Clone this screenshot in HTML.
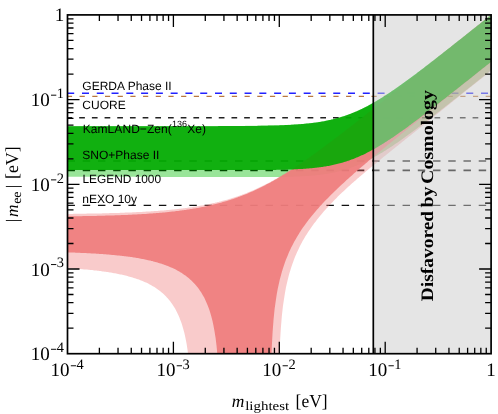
<!DOCTYPE html>
<html><head><meta charset="utf-8"><title>plot</title>
<style>
html,body{margin:0;padding:0;background:#fff;}
body{width:498px;height:414px;overflow:hidden;}
svg{display:block;will-change:transform}
text{font-family:"Liberation Serif",serif;fill:#000;text-rendering:geometricPrecision}
.sans text{font-family:"Liberation Sans",sans-serif;}
</style></head><body>
<svg width="498" height="414" viewBox="0 0 498 414">
<rect width="498" height="414" fill="#fff"/>
<defs><clipPath id="cp"><rect x="67.5" y="14.9" width="423.6" height="338.8"/></clipPath></defs>
<g clip-path="url(#cp)">
<g fill="none">
<line x1="67.2" y1="93.2" x2="491.1" y2="93.2" stroke="#2222ff" stroke-width="1.55" stroke-dasharray="7.0 7.78" stroke-dashoffset="0.0"/>
<line x1="66.9" y1="96.4" x2="491.1" y2="96.4" stroke="#b87840" stroke-width="1.10" stroke-dasharray="5.2 7.49" stroke-dashoffset="0.0"/>
<line x1="66.5" y1="117.8" x2="491.1" y2="117.8" stroke="#222" stroke-width="1.40" stroke-dasharray="5.7 6.99" stroke-dashoffset="0.0"/>
<line x1="67.5" y1="161.0" x2="491.1" y2="161.0" stroke="#111" stroke-width="1.40" stroke-dasharray="7.45 7.78" stroke-dashoffset="0.0"/>
<line x1="67.5" y1="170.3" x2="491.1" y2="170.3" stroke="#000" stroke-width="1.70" stroke-dasharray="7.45 7.78" stroke-dashoffset="0.0"/>
<line x1="67.5" y1="205.4" x2="491.1" y2="205.4" stroke="#111" stroke-width="1.40" stroke-dasharray="7.45 7.78" stroke-dashoffset="0.0"/>
</g>
<path d="M62.2,126.1 L63.2,126.1 L64.3,126.1 L65.3,126.1 L66.4,126.1 L67.4,126.1 L68.4,126.1 L69.5,126.1 L70.5,126.1 L71.5,126.1 L72.6,126.1 L73.6,126.1 L74.6,126.1 L75.7,126.1 L76.7,126.1 L77.7,126.1 L78.8,126.1 L79.8,126.1 L80.9,126.1 L81.9,126.1 L82.9,126.1 L84.0,126.1 L85.0,126.1 L86.0,126.1 L87.1,126.1 L88.1,126.1 L89.1,126.1 L90.2,126.1 L91.2,126.1 L92.3,126.1 L93.3,126.1 L94.3,126.1 L95.4,126.1 L96.4,126.1 L97.4,126.1 L98.5,126.1 L99.5,126.1 L100.5,126.1 L101.6,126.1 L102.6,126.1 L103.7,126.1 L104.7,126.1 L105.7,126.1 L106.8,126.1 L107.8,126.1 L108.8,126.1 L109.9,126.1 L110.9,126.1 L111.9,126.1 L113.0,126.1 L114.0,126.1 L115.1,126.1 L116.1,126.1 L117.1,126.1 L118.2,126.1 L119.2,126.1 L120.2,126.1 L121.3,126.1 L122.3,126.1 L123.3,126.1 L124.4,126.1 L125.4,126.1 L126.5,126.1 L127.5,126.1 L128.5,126.1 L129.6,126.1 L130.6,126.1 L131.6,126.1 L132.7,126.1 L133.7,126.1 L134.7,126.1 L135.8,126.1 L136.8,126.1 L137.9,126.1 L138.9,126.1 L139.9,126.1 L141.0,126.1 L142.0,126.1 L143.0,126.1 L144.1,126.1 L145.1,126.1 L146.1,126.1 L147.2,126.1 L148.2,126.1 L149.3,126.1 L150.3,126.1 L151.3,126.1 L152.4,126.1 L153.4,126.1 L154.4,126.1 L155.5,126.1 L156.5,126.1 L157.5,126.1 L158.6,126.1 L159.6,126.1 L160.6,126.1 L161.7,126.1 L162.7,126.1 L163.8,126.1 L164.8,126.1 L165.8,126.1 L166.9,126.1 L167.9,126.1 L168.9,126.1 L170.0,126.1 L171.0,126.1 L172.0,126.1 L173.1,126.1 L174.1,126.1 L175.2,126.1 L176.2,126.1 L177.2,126.1 L178.3,126.1 L179.3,126.1 L180.3,126.1 L181.4,126.1 L182.4,126.1 L183.4,126.1 L184.5,126.1 L185.5,126.1 L186.6,126.1 L187.6,126.1 L188.6,126.1 L189.7,126.1 L190.7,126.1 L191.7,126.1 L192.8,126.1 L193.8,126.1 L194.8,126.1 L195.9,126.1 L196.9,126.1 L198.0,126.1 L199.0,126.0 L200.0,126.0 L201.1,126.0 L202.1,126.0 L203.1,126.0 L204.2,126.0 L205.2,126.0 L206.2,126.0 L207.3,126.0 L208.3,126.0 L209.4,126.0 L210.4,126.0 L211.4,126.0 L212.5,126.0 L213.5,126.0 L214.5,126.0 L215.6,126.0 L216.6,126.0 L217.6,126.0 L218.7,126.0 L219.7,126.0 L220.8,126.0 L221.8,126.0 L222.8,126.0 L223.9,126.0 L224.9,126.0 L225.9,126.0 L227.0,126.0 L228.0,126.0 L229.0,126.0 L230.1,126.0 L231.1,125.9 L232.2,125.9 L233.2,125.9 L234.2,125.9 L235.3,125.9 L236.3,125.9 L237.3,125.9 L238.4,125.9 L239.4,125.9 L240.4,125.9 L241.5,125.9 L242.5,125.9 L243.5,125.9 L244.6,125.9 L245.6,125.8 L246.7,125.8 L247.7,125.8 L248.7,125.8 L249.8,125.8 L250.8,125.8 L251.8,125.8 L252.9,125.8 L253.9,125.8 L254.9,125.7 L256.0,125.7 L257.0,125.7 L258.1,125.7 L259.1,125.7 L260.1,125.7 L261.2,125.6 L262.2,125.6 L263.2,125.6 L264.3,125.6 L265.3,125.6 L266.3,125.5 L267.4,125.5 L268.4,125.5 L269.5,125.5 L270.5,125.4 L271.5,125.4 L272.6,125.4 L273.6,125.4 L274.6,125.3 L275.7,125.3 L276.7,125.3 L277.7,125.2 L278.8,125.2 L279.8,125.2 L280.9,125.1 L281.9,125.1 L282.9,125.1 L284.0,125.0 L285.0,125.0 L286.0,124.9 L287.1,124.9 L288.1,124.8 L289.1,124.8 L290.2,124.7 L291.2,124.7 L292.3,124.6 L293.3,124.5 L294.3,124.5 L295.4,124.4 L296.4,124.3 L297.4,124.3 L298.5,124.2 L299.5,124.1 L300.5,124.0 L301.6,123.9 L302.6,123.9 L303.7,123.8 L304.7,123.7 L305.7,123.6 L306.8,123.5 L307.8,123.4 L308.8,123.3 L309.9,123.1 L310.9,123.0 L311.9,122.9 L313.0,122.8 L314.0,122.6 L315.1,122.5 L316.1,122.4 L317.1,122.2 L318.2,122.1 L319.2,121.9 L320.2,121.7 L321.3,121.6 L322.3,121.4 L323.3,121.2 L324.4,121.0 L325.4,120.8 L326.4,120.6 L327.5,120.4 L328.5,120.2 L329.6,120.0 L330.6,119.7 L331.6,119.5 L332.7,119.3 L333.7,119.0 L334.7,118.7 L335.8,118.5 L336.8,118.2 L337.8,117.9 L338.9,117.6 L339.9,117.3 L341.0,117.0 L342.0,116.7 L343.0,116.3 L344.1,116.0 L345.1,115.7 L346.1,115.3 L347.2,114.9 L348.2,114.6 L349.2,114.2 L350.3,113.8 L351.3,113.4 L352.4,113.0 L353.4,112.6 L354.4,112.1 L355.5,111.7 L356.5,111.2 L357.5,110.8 L358.6,110.3 L359.6,109.8 L360.6,109.4 L361.7,108.9 L362.7,108.4 L363.8,107.8 L364.8,107.3 L365.8,106.8 L366.9,106.3 L367.9,105.7 L368.9,105.2 L370.0,104.6 L371.0,104.0 L372.0,103.5 L373.1,102.9 L374.1,102.3 L375.2,101.7 L376.2,101.1 L377.2,100.4 L378.3,99.8 L379.3,99.2 L380.3,98.6 L381.4,97.9 L382.4,97.3 L383.4,96.6 L384.5,96.0 L385.5,95.3 L386.6,94.6 L387.6,93.9 L388.6,93.3 L389.7,92.6 L390.7,91.9 L391.7,91.2 L392.8,90.5 L393.8,89.8 L394.8,89.0 L395.9,88.3 L396.9,87.6 L398.0,86.9 L399.0,86.1 L400.0,85.4 L401.1,84.7 L402.1,83.9 L403.1,83.2 L404.2,82.4 L405.2,81.7 L406.2,80.9 L407.3,80.2 L408.3,79.4 L409.3,78.7 L410.4,77.9 L411.4,77.1 L412.5,76.3 L413.5,75.6 L414.5,74.8 L415.6,74.0 L416.6,73.2 L417.6,72.5 L418.7,71.7 L419.7,70.9 L420.7,70.1 L421.8,69.3 L422.8,68.5 L423.9,67.7 L424.9,66.9 L425.9,66.1 L427.0,65.3 L428.0,64.5 L429.0,63.7 L430.1,62.9 L431.1,62.1 L432.1,61.3 L433.2,60.5 L434.2,59.7 L435.3,58.9 L436.3,58.1 L437.3,57.3 L438.4,56.5 L439.4,55.7 L440.4,54.9 L441.5,54.1 L442.5,53.3 L443.5,52.4 L444.6,51.6 L445.6,50.8 L446.7,50.0 L447.7,49.2 L448.7,48.4 L449.8,47.5 L450.8,46.7 L451.8,45.9 L452.9,45.1 L453.9,44.3 L454.9,43.5 L456.0,42.6 L457.0,41.8 L458.1,41.0 L459.1,40.2 L460.1,39.4 L461.2,38.5 L462.2,37.7 L463.2,36.9 L464.3,36.1 L465.3,35.2 L466.3,34.4 L467.4,33.6 L468.4,32.8 L469.5,32.0 L470.5,31.1 L471.5,30.3 L472.6,29.5 L473.6,28.7 L474.6,27.8 L475.7,27.0 L476.7,26.2 L477.7,25.4 L478.8,24.5 L479.8,23.7 L480.9,22.9 L481.9,22.1 L482.9,21.2 L484.0,20.4 L485.0,19.6 L486.0,18.8 L487.1,17.9 L488.1,17.1 L489.1,16.3 L490.2,15.4 L491.2,14.6 L492.2,13.8 L493.3,13.0 L494.3,12.1 L495.4,11.3 L496.4,10.5 L496.4,66.0 L495.4,66.9 L494.3,67.7 L493.3,68.5 L492.2,69.4 L491.2,70.2 L490.2,71.0 L489.1,71.8 L488.1,72.7 L487.1,73.5 L486.0,74.3 L485.0,75.1 L484.0,76.0 L482.9,76.8 L481.9,77.6 L480.9,78.4 L479.8,79.3 L478.8,80.1 L477.7,80.9 L476.7,81.7 L475.7,82.6 L474.6,83.4 L473.6,84.2 L472.6,85.0 L471.5,85.9 L470.5,86.7 L469.5,87.5 L468.4,88.3 L467.4,89.2 L466.3,90.0 L465.3,90.8 L464.3,91.6 L463.2,92.4 L462.2,93.3 L461.2,94.1 L460.1,94.9 L459.1,95.7 L458.1,96.5 L457.0,97.4 L456.0,98.2 L454.9,99.0 L453.9,99.8 L452.9,100.6 L451.8,101.5 L450.8,102.3 L449.8,103.1 L448.7,103.9 L447.7,104.7 L446.7,105.5 L445.6,106.3 L444.6,107.2 L443.5,108.0 L442.5,108.8 L441.5,109.6 L440.4,110.4 L439.4,111.2 L438.4,112.0 L437.3,112.8 L436.3,113.6 L435.3,114.4 L434.2,115.2 L433.2,116.0 L432.1,116.8 L431.1,117.6 L430.1,118.4 L429.0,119.2 L428.0,120.0 L427.0,120.8 L425.9,121.6 L424.9,122.4 L423.9,123.2 L422.8,124.0 L421.8,124.8 L420.7,125.6 L419.7,126.4 L418.7,127.1 L417.6,127.9 L416.6,128.7 L415.6,129.5 L414.5,130.2 L413.5,131.0 L412.5,131.8 L411.4,132.5 L410.4,133.3 L409.3,134.1 L408.3,134.8 L407.3,135.6 L406.2,136.3 L405.2,137.1 L404.2,137.8 L403.1,138.5 L402.1,139.3 L401.1,140.0 L400.0,140.7 L399.0,141.5 L398.0,142.2 L396.9,142.9 L395.9,143.6 L394.8,144.3 L393.8,145.0 L392.8,145.7 L391.7,146.4 L390.7,147.1 L389.7,147.8 L388.6,148.4 L387.6,149.1 L386.6,149.8 L385.5,150.4 L384.5,151.1 L383.4,151.7 L382.4,152.4 L381.4,153.0 L380.3,153.6 L379.3,154.2 L378.3,154.8 L377.2,155.4 L376.2,156.0 L375.2,156.6 L374.1,157.2 L373.1,157.8 L372.0,158.3 L371.0,158.9 L370.0,159.4 L368.9,160.0 L367.9,160.5 L366.9,161.0 L365.8,161.5 L364.8,162.0 L363.8,162.5 L362.7,163.0 L361.7,163.5 L360.6,163.9 L359.6,164.4 L358.6,164.8 L357.5,165.3 L356.5,165.7 L355.5,166.1 L354.4,166.5 L353.4,166.9 L352.4,167.3 L351.3,167.6 L350.3,168.0 L349.2,168.4 L348.2,168.7 L347.2,169.0 L346.1,169.4 L345.1,169.7 L344.1,170.0 L343.0,170.3 L342.0,170.6 L341.0,170.9 L339.9,171.1 L338.9,171.4 L337.8,171.6 L336.8,171.9 L335.8,172.1 L334.7,172.4 L333.7,172.6 L332.7,172.8 L331.6,173.0 L330.6,173.2 L329.6,173.4 L328.5,173.6 L327.5,173.7 L326.4,173.9 L325.4,174.1 L324.4,174.2 L323.3,174.4 L322.3,174.5 L321.3,174.6 L320.2,174.8 L319.2,174.9 L318.2,175.0 L317.1,175.1 L316.1,175.2 L315.1,175.4 L314.0,175.5 L313.0,175.5 L311.9,175.6 L310.9,175.7 L309.9,175.8 L308.8,175.9 L307.8,176.0 L306.8,176.0 L305.7,176.1 L304.7,176.2 L303.7,176.2 L302.6,176.3 L301.6,176.3 L300.5,176.4 L299.5,176.4 L298.5,176.5 L297.4,176.5 L296.4,176.6 L295.4,176.6 L294.3,176.6 L293.3,176.7 L292.3,176.7 L291.2,176.7 L290.2,176.8 L289.1,176.8 L288.1,176.8 L287.1,176.8 L286.0,176.9 L285.0,176.9 L284.0,176.9 L282.9,176.9 L281.9,176.9 L280.9,176.9 L279.8,177.0 L278.8,177.0 L277.7,177.0 L276.7,177.0 L275.7,177.0 L274.6,177.0 L273.6,177.0 L272.6,177.0 L271.5,177.0 L270.5,177.0 L269.5,177.1 L268.4,177.1 L267.4,177.1 L266.3,177.1 L265.3,177.1 L264.3,177.1 L263.2,177.1 L262.2,177.1 L261.2,177.1 L260.1,177.1 L259.1,177.1 L258.1,177.1 L257.0,177.1 L256.0,177.1 L254.9,177.1 L253.9,177.1 L252.9,177.1 L251.8,177.1 L250.8,177.1 L249.8,177.1 L248.7,177.1 L247.7,177.1 L246.7,177.1 L245.6,177.1 L244.6,177.1 L243.5,177.1 L242.5,177.1 L241.5,177.1 L240.4,177.1 L239.4,177.0 L238.4,177.0 L237.3,177.0 L236.3,177.0 L235.3,177.0 L234.2,177.0 L233.2,177.0 L232.2,177.0 L231.1,177.0 L230.1,177.0 L229.0,177.0 L228.0,177.0 L227.0,177.0 L225.9,177.0 L224.9,177.0 L223.9,177.0 L222.8,177.0 L221.8,177.0 L220.8,177.0 L219.7,177.0 L218.7,177.0 L217.6,177.0 L216.6,177.0 L215.6,177.0 L214.5,177.0 L213.5,177.0 L212.5,177.0 L211.4,177.0 L210.4,177.0 L209.4,177.0 L208.3,177.0 L207.3,177.0 L206.2,176.9 L205.2,176.9 L204.2,176.9 L203.1,176.9 L202.1,176.9 L201.1,176.9 L200.0,176.9 L199.0,176.9 L198.0,176.9 L196.9,176.9 L195.9,176.9 L194.8,176.9 L193.8,176.9 L192.8,176.9 L191.7,176.9 L190.7,176.9 L189.7,176.9 L188.6,176.9 L187.6,176.9 L186.6,176.9 L185.5,176.9 L184.5,176.9 L183.4,176.9 L182.4,176.9 L181.4,176.9 L180.3,176.9 L179.3,176.9 L178.3,176.9 L177.2,176.9 L176.2,176.9 L175.2,176.9 L174.1,176.9 L173.1,176.9 L172.0,176.9 L171.0,176.9 L170.0,176.9 L168.9,176.9 L167.9,176.9 L166.9,176.9 L165.8,176.9 L164.8,176.9 L163.8,176.9 L162.7,176.9 L161.7,176.9 L160.6,176.9 L159.6,176.9 L158.6,176.8 L157.5,176.8 L156.5,176.8 L155.5,176.8 L154.4,176.8 L153.4,176.8 L152.4,176.8 L151.3,176.8 L150.3,176.8 L149.3,176.8 L148.2,176.8 L147.2,176.8 L146.1,176.8 L145.1,176.8 L144.1,176.8 L143.0,176.8 L142.0,176.8 L141.0,176.8 L139.9,176.8 L138.9,176.8 L137.9,176.8 L136.8,176.8 L135.8,176.8 L134.7,176.8 L133.7,176.8 L132.7,176.8 L131.6,176.8 L130.6,176.8 L129.6,176.8 L128.5,176.8 L127.5,176.8 L126.5,176.8 L125.4,176.8 L124.4,176.8 L123.3,176.8 L122.3,176.8 L121.3,176.8 L120.2,176.8 L119.2,176.8 L118.2,176.8 L117.1,176.8 L116.1,176.8 L115.1,176.8 L114.0,176.8 L113.0,176.8 L111.9,176.8 L110.9,176.8 L109.9,176.8 L108.8,176.8 L107.8,176.8 L106.8,176.8 L105.7,176.8 L104.7,176.8 L103.7,176.8 L102.6,176.8 L101.6,176.8 L100.5,176.8 L99.5,176.8 L98.5,176.8 L97.4,176.8 L96.4,176.8 L95.4,176.8 L94.3,176.8 L93.3,176.8 L92.3,176.8 L91.2,176.8 L90.2,176.8 L89.1,176.8 L88.1,176.8 L87.1,176.8 L86.0,176.8 L85.0,176.8 L84.0,176.8 L82.9,176.8 L81.9,176.8 L80.9,176.8 L79.8,176.8 L78.8,176.8 L77.7,176.8 L76.7,176.8 L75.7,176.8 L74.6,176.8 L73.6,176.8 L72.6,176.8 L71.5,176.8 L70.5,176.8 L69.5,176.8 L68.4,176.8 L67.4,176.8 L66.4,176.8 L65.3,176.8 L64.3,176.8 L63.2,176.8 L62.2,176.8Z" fill="rgb(0,191,0)" fill-opacity="0.4"/>
<path d="M62.2,214.0 L63.2,214.0 L64.3,213.9 L65.3,213.9 L66.4,213.9 L67.4,213.9 L68.4,213.9 L69.5,213.9 L70.5,213.9 L71.5,213.9 L72.6,213.9 L73.6,213.8 L74.6,213.8 L75.7,213.8 L76.7,213.8 L77.7,213.8 L78.8,213.8 L79.8,213.8 L80.9,213.7 L81.9,213.7 L82.9,213.7 L84.0,213.7 L85.0,213.7 L86.0,213.7 L87.1,213.6 L88.1,213.6 L89.1,213.6 L90.2,213.6 L91.2,213.6 L92.3,213.6 L93.3,213.5 L94.3,213.5 L95.4,213.5 L96.4,213.5 L97.4,213.4 L98.5,213.4 L99.5,213.4 L100.5,213.4 L101.6,213.4 L102.6,213.3 L103.7,213.3 L104.7,213.3 L105.7,213.3 L106.8,213.2 L107.8,213.2 L108.8,213.2 L109.9,213.1 L110.9,213.1 L111.9,213.1 L113.0,213.1 L114.0,213.0 L115.1,213.0 L116.1,213.0 L117.1,212.9 L118.2,212.9 L119.2,212.9 L120.2,212.8 L121.3,212.8 L122.3,212.8 L123.3,212.7 L124.4,212.7 L125.4,212.6 L126.5,212.6 L127.5,212.6 L128.5,212.5 L129.6,212.5 L130.6,212.4 L131.6,212.4 L132.7,212.3 L133.7,212.3 L134.7,212.2 L135.8,212.2 L136.8,212.1 L137.9,212.1 L138.9,212.0 L139.9,212.0 L141.0,211.9 L142.0,211.9 L143.0,211.8 L144.1,211.8 L145.1,211.7 L146.1,211.6 L147.2,211.6 L148.2,211.5 L149.3,211.5 L150.3,211.4 L151.3,211.3 L152.4,211.2 L153.4,211.2 L154.4,211.1 L155.5,211.0 L156.5,211.0 L157.5,210.9 L158.6,210.8 L159.6,210.7 L160.6,210.6 L161.7,210.6 L162.7,210.5 L163.8,210.4 L164.8,210.3 L165.8,210.2 L166.9,210.1 L167.9,210.0 L168.9,209.9 L170.0,209.8 L171.0,209.7 L172.0,209.6 L173.1,209.5 L174.1,209.4 L175.2,209.3 L176.2,209.2 L177.2,209.1 L178.3,208.9 L179.3,208.8 L180.3,208.7 L181.4,208.6 L182.4,208.4 L183.4,208.3 L184.5,208.2 L185.5,208.0 L186.6,207.9 L187.6,207.8 L188.6,207.6 L189.7,207.5 L190.7,207.3 L191.7,207.2 L192.8,207.0 L193.8,206.8 L194.8,206.7 L195.9,206.5 L196.9,206.3 L198.0,206.2 L199.0,206.0 L200.0,205.8 L201.1,205.6 L202.1,205.4 L203.1,205.3 L204.2,205.1 L205.2,204.9 L206.2,204.7 L207.3,204.4 L208.3,204.2 L209.4,204.0 L210.4,203.8 L211.4,203.6 L212.5,203.3 L213.5,203.1 L214.5,202.9 L215.6,202.6 L216.6,202.4 L217.6,202.1 L218.7,201.9 L219.7,201.6 L220.8,201.4 L221.8,201.1 L222.8,200.8 L223.9,200.5 L224.9,200.2 L225.9,200.0 L227.0,199.7 L228.0,199.4 L229.0,199.0 L230.1,198.7 L231.1,198.4 L232.2,198.1 L233.2,197.8 L234.2,197.4 L235.3,197.1 L236.3,196.7 L237.3,196.4 L238.4,196.0 L239.4,195.7 L240.4,195.3 L241.5,194.9 L242.5,194.5 L243.5,194.2 L244.6,193.8 L245.6,193.4 L246.7,193.0 L247.7,192.5 L248.7,192.1 L249.8,191.7 L250.8,191.3 L251.8,190.8 L252.9,190.4 L253.9,189.9 L254.9,189.5 L256.0,189.0 L257.0,188.6 L258.1,188.1 L259.1,187.6 L260.1,187.1 L261.2,186.6 L262.2,186.1 L263.2,185.6 L264.3,185.1 L265.3,184.6 L266.3,184.0 L267.4,183.5 L268.4,183.0 L269.5,182.4 L270.5,181.9 L271.5,181.3 L272.6,180.7 L273.6,180.2 L274.6,179.6 L275.7,179.0 L276.7,178.4 L277.7,177.8 L278.8,177.2 L279.8,176.6 L280.9,176.0 L281.9,175.4 L282.9,174.8 L284.0,174.2 L285.0,173.5 L286.0,172.9 L287.1,172.3 L288.1,171.6 L289.1,171.0 L290.2,170.3 L291.2,169.6 L292.3,169.0 L293.3,168.3 L294.3,167.6 L295.4,167.0 L296.4,166.3 L297.4,165.6 L298.5,164.9 L299.5,164.2 L300.5,163.5 L301.6,162.8 L302.6,162.1 L303.7,161.4 L304.7,160.7 L305.7,159.9 L306.8,159.2 L307.8,158.5 L308.8,157.8 L309.9,157.0 L310.9,156.3 L311.9,155.6 L313.0,154.8 L314.0,154.1 L315.1,153.4 L316.1,152.6 L317.1,151.9 L318.2,151.1 L319.2,150.3 L320.2,149.6 L321.3,148.8 L322.3,148.1 L323.3,147.3 L324.4,146.5 L325.4,145.8 L326.4,145.0 L327.5,144.2 L328.5,143.5 L329.6,142.7 L330.6,141.9 L331.6,141.1 L332.7,140.3 L333.7,139.6 L334.7,138.8 L335.8,138.0 L336.8,137.2 L337.8,136.4 L338.9,135.6 L339.9,134.8 L341.0,134.1 L342.0,133.3 L343.0,132.5 L344.1,131.7 L345.1,130.9 L346.1,130.1 L347.2,129.3 L348.2,128.5 L349.2,127.7 L350.3,126.9 L351.3,126.1 L352.4,125.3 L353.4,124.5 L354.4,123.7 L355.5,122.8 L356.5,122.0 L357.5,121.2 L358.6,120.4 L359.6,119.6 L360.6,118.8 L361.7,118.0 L362.7,117.2 L363.8,116.4 L364.8,115.6 L365.8,114.7 L366.9,113.9 L367.9,113.1 L368.9,112.3 L370.0,111.5 L371.0,110.7 L372.0,109.8 L373.1,109.0 L374.1,108.2 L375.2,107.4 L376.2,106.6 L377.2,105.8 L378.3,104.9 L379.3,104.1 L380.3,103.3 L381.4,102.5 L382.4,101.7 L383.4,100.8 L384.5,100.0 L385.5,99.2 L386.6,98.4 L387.6,97.5 L388.6,96.7 L389.7,95.9 L390.7,95.1 L391.7,94.3 L392.8,93.4 L393.8,92.6 L394.8,91.8 L395.9,91.0 L396.9,90.1 L398.0,89.3 L399.0,88.5 L400.0,87.7 L401.1,86.8 L402.1,86.0 L403.1,85.2 L404.2,84.4 L405.2,83.5 L406.2,82.7 L407.3,81.9 L408.3,81.1 L409.3,80.2 L410.4,79.4 L411.4,78.6 L412.5,77.7 L413.5,76.9 L414.5,76.1 L415.6,75.3 L416.6,74.4 L417.6,73.6 L418.7,72.8 L419.7,72.0 L420.7,71.1 L421.8,70.3 L422.8,69.5 L423.9,68.7 L424.9,67.8 L425.9,67.0 L427.0,66.2 L428.0,65.3 L429.0,64.5 L430.1,63.7 L431.1,62.9 L432.1,62.0 L433.2,61.2 L434.2,60.4 L435.3,59.5 L436.3,58.7 L437.3,57.9 L438.4,57.1 L439.4,56.2 L440.4,55.4 L441.5,54.6 L442.5,53.7 L443.5,52.9 L444.6,52.1 L445.6,51.3 L446.7,50.4 L447.7,49.6 L448.7,48.8 L449.8,48.0 L450.8,47.1 L451.8,46.3 L452.9,45.5 L453.9,44.6 L454.9,43.8 L456.0,43.0 L457.0,42.2 L458.1,41.3 L459.1,40.5 L460.1,39.7 L461.2,38.8 L462.2,38.0 L463.2,37.2 L464.3,36.4 L465.3,35.5 L466.3,34.7 L467.4,33.9 L468.4,33.0 L469.5,32.2 L470.5,31.4 L471.5,30.6 L472.6,29.7 L473.6,28.9 L474.6,28.1 L475.7,27.2 L476.7,26.4 L477.7,25.6 L478.8,24.8 L479.8,23.9 L480.9,23.1 L481.9,22.3 L482.9,21.4 L484.0,20.6 L485.0,19.8 L486.0,19.0 L487.1,18.1 L488.1,17.3 L489.1,16.5 L490.2,15.6 L491.2,14.8 L492.2,14.0 L493.3,13.1 L494.3,12.3 L495.4,11.5 L496.4,10.7 L496.4,66.6 L495.4,67.4 L494.3,68.2 L493.3,69.1 L492.2,69.9 L491.2,70.7 L490.2,71.6 L489.1,72.4 L488.1,73.2 L487.1,74.0 L486.0,74.9 L485.0,75.7 L484.0,76.5 L482.9,77.4 L481.9,78.2 L480.9,79.0 L479.8,79.8 L478.8,80.7 L477.7,81.5 L476.7,82.3 L475.7,83.2 L474.6,84.0 L473.6,84.8 L472.6,85.6 L471.5,86.5 L470.5,87.3 L469.5,88.1 L468.4,89.0 L467.4,89.8 L466.3,90.6 L465.3,91.5 L464.3,92.3 L463.2,93.1 L462.2,93.9 L461.2,94.8 L460.1,95.6 L459.1,96.4 L458.1,97.3 L457.0,98.1 L456.0,98.9 L454.9,99.8 L453.9,100.6 L452.9,101.4 L451.8,102.2 L450.8,103.1 L449.8,103.9 L448.7,104.7 L447.7,105.6 L446.7,106.4 L445.6,107.2 L444.6,108.1 L443.5,108.9 L442.5,109.7 L441.5,110.5 L440.4,111.4 L439.4,112.2 L438.4,113.0 L437.3,113.9 L436.3,114.7 L435.3,115.5 L434.2,116.4 L433.2,117.2 L432.1,118.0 L431.1,118.9 L430.1,119.7 L429.0,120.5 L428.0,121.3 L427.0,122.2 L425.9,123.0 L424.9,123.8 L423.9,124.7 L422.8,125.5 L421.8,126.3 L420.7,127.2 L419.7,128.0 L418.7,128.8 L417.6,129.7 L416.6,130.5 L415.6,131.3 L414.5,132.2 L413.5,133.0 L412.5,133.8 L411.4,134.7 L410.4,135.5 L409.3,136.3 L408.3,137.1 L407.3,138.0 L406.2,138.8 L405.2,139.6 L404.2,140.5 L403.1,141.3 L402.1,142.1 L401.1,143.0 L400.0,143.8 L399.0,144.6 L398.0,145.5 L396.9,146.3 L395.9,147.1 L394.8,148.0 L393.8,148.8 L392.8,149.6 L391.7,150.5 L390.7,151.3 L389.7,152.1 L388.6,153.0 L387.6,153.8 L386.6,154.6 L385.5,155.5 L384.5,156.3 L383.4,157.1 L382.4,158.0 L381.4,158.8 L380.3,159.7 L379.3,160.5 L378.3,161.3 L377.2,162.2 L376.2,163.0 L375.2,163.9 L374.1,164.7 L373.1,165.6 L372.0,166.4 L371.0,167.3 L370.0,168.1 L368.9,169.0 L367.9,169.8 L366.9,170.7 L365.8,171.5 L364.8,172.4 L363.8,173.3 L362.7,174.2 L361.7,175.0 L360.6,175.9 L359.6,176.8 L358.6,177.7 L357.5,178.6 L356.5,179.5 L355.5,180.4 L354.4,181.3 L353.4,182.2 L352.4,183.1 L351.3,184.0 L350.3,185.0 L349.2,185.9 L348.2,186.8 L347.2,187.8 L346.1,188.8 L345.1,189.7 L344.1,190.7 L343.0,191.7 L342.0,192.6 L341.0,193.6 L339.9,194.6 L338.9,195.6 L337.8,196.6 L336.8,197.7 L335.8,198.7 L334.7,199.8 L333.7,200.8 L332.7,201.9 L331.6,202.9 L330.6,204.0 L329.6,205.1 L328.5,206.3 L327.5,207.4 L326.4,208.5 L325.4,209.7 L324.4,210.8 L323.3,212.0 L322.3,213.2 L321.3,214.5 L320.2,215.7 L319.2,217.0 L318.2,218.2 L317.1,219.5 L316.1,220.9 L315.1,222.2 L314.0,223.6 L313.0,225.0 L311.9,226.4 L310.9,227.9 L309.9,229.4 L308.8,231.0 L307.8,232.5 L306.8,234.2 L305.7,235.8 L304.7,237.5 L303.7,239.3 L302.6,241.1 L301.6,243.0 L300.5,245.0 L299.5,247.0 L298.5,249.2 L297.4,251.4 L296.4,253.7 L295.4,256.1 L294.3,258.7 L293.3,261.4 L292.3,264.3 L291.2,267.4 L290.2,270.7 L289.1,274.3 L288.1,278.2 L287.1,282.5 L286.0,287.3 L285.0,292.7 L284.0,298.9 L282.9,306.4 L281.9,315.6 L280.9,327.6 L279.8,345.3 L278.8,373.7 L277.7,373.7 L276.7,373.7 L275.7,373.7 L274.6,373.7 L273.6,373.7 L272.6,373.7 L271.5,373.7 L270.5,373.7 L269.5,373.7 L268.4,373.7 L267.4,373.7 L266.3,373.7 L265.3,373.7 L264.3,373.7 L263.2,373.7 L262.2,373.7 L261.2,373.7 L260.1,373.7 L259.1,373.7 L258.1,373.7 L257.0,373.7 L256.0,373.7 L254.9,373.7 L253.9,373.7 L252.9,373.7 L251.8,373.7 L250.8,373.7 L249.8,373.7 L248.7,373.7 L247.7,373.7 L246.7,373.7 L245.6,373.7 L244.6,373.7 L243.5,373.7 L242.5,373.7 L241.5,373.7 L240.4,373.7 L239.4,373.7 L238.4,373.7 L237.3,373.7 L236.3,373.7 L235.3,373.7 L234.2,373.7 L233.2,373.7 L232.2,373.7 L231.1,373.7 L230.1,373.7 L229.0,373.7 L228.0,373.7 L227.0,373.7 L225.9,373.7 L224.9,373.7 L223.9,373.7 L222.8,373.7 L221.8,373.7 L220.8,373.7 L219.7,373.7 L218.7,373.7 L217.6,373.7 L216.6,373.7 L215.6,373.7 L214.5,373.7 L213.5,373.7 L212.5,373.7 L211.4,373.7 L210.4,373.7 L209.4,373.7 L208.3,373.7 L207.3,373.7 L206.2,373.7 L205.2,373.7 L204.2,373.7 L203.1,373.7 L202.1,373.7 L201.1,373.7 L200.0,373.7 L199.0,373.7 L198.0,373.7 L196.9,373.7 L195.9,373.7 L194.8,373.7 L193.8,373.7 L192.8,373.7 L191.7,373.7 L190.7,373.7 L189.7,369.6 L188.6,358.7 L187.6,350.4 L186.6,343.8 L185.5,338.3 L184.5,333.6 L183.4,329.6 L182.4,326.0 L181.4,322.8 L180.3,319.9 L179.3,317.3 L178.3,314.9 L177.2,312.7 L176.2,310.7 L175.2,308.8 L174.1,307.0 L173.1,305.4 L172.0,303.8 L171.0,302.4 L170.0,301.0 L168.9,299.8 L167.9,298.5 L166.9,297.4 L165.8,296.3 L164.8,295.3 L163.8,294.3 L162.7,293.3 L161.7,292.4 L160.6,291.6 L159.6,290.8 L158.6,290.0 L157.5,289.2 L156.5,288.5 L155.5,287.8 L154.4,287.1 L153.4,286.5 L152.4,285.9 L151.3,285.3 L150.3,284.7 L149.3,284.2 L148.2,283.6 L147.2,283.1 L146.1,282.6 L145.1,282.2 L144.1,281.7 L143.0,281.3 L142.0,280.8 L141.0,280.4 L139.9,280.0 L138.9,279.6 L137.9,279.3 L136.8,278.9 L135.8,278.5 L134.7,278.2 L133.7,277.9 L132.7,277.6 L131.6,277.2 L130.6,276.9 L129.6,276.7 L128.5,276.4 L127.5,276.1 L126.5,275.8 L125.4,275.6 L124.4,275.3 L123.3,275.1 L122.3,274.8 L121.3,274.6 L120.2,274.4 L119.2,274.2 L118.2,273.9 L117.1,273.7 L116.1,273.5 L115.1,273.3 L114.0,273.2 L113.0,273.0 L111.9,272.8 L110.9,272.6 L109.9,272.4 L108.8,272.3 L107.8,272.1 L106.8,272.0 L105.7,271.8 L104.7,271.7 L103.7,271.5 L102.6,271.4 L101.6,271.2 L100.5,271.1 L99.5,271.0 L98.5,270.8 L97.4,270.7 L96.4,270.6 L95.4,270.5 L94.3,270.4 L93.3,270.3 L92.3,270.1 L91.2,270.0 L90.2,269.9 L89.1,269.8 L88.1,269.7 L87.1,269.6 L86.0,269.5 L85.0,269.5 L84.0,269.4 L82.9,269.3 L81.9,269.2 L80.9,269.1 L79.8,269.0 L78.8,268.9 L77.7,268.9 L76.7,268.8 L75.7,268.7 L74.6,268.7 L73.6,268.6 L72.6,268.5 L71.5,268.4 L70.5,268.4 L69.5,268.3 L68.4,268.3 L67.4,268.2 L66.4,268.1 L65.3,268.1 L64.3,268.0 L63.2,268.0 L62.2,267.9Z" fill="rgb(239,125,125)" fill-opacity="0.4"/>
<path d="M62.2,216.4 L63.2,216.4 L64.3,216.4 L65.3,216.4 L66.4,216.4 L67.4,216.4 L68.4,216.4 L69.5,216.3 L70.5,216.3 L71.5,216.3 L72.6,216.3 L73.6,216.3 L74.6,216.3 L75.7,216.3 L76.7,216.2 L77.7,216.2 L78.8,216.2 L79.8,216.2 L80.9,216.2 L81.9,216.2 L82.9,216.1 L84.0,216.1 L85.0,216.1 L86.0,216.1 L87.1,216.1 L88.1,216.0 L89.1,216.0 L90.2,216.0 L91.2,216.0 L92.3,216.0 L93.3,215.9 L94.3,215.9 L95.4,215.9 L96.4,215.9 L97.4,215.8 L98.5,215.8 L99.5,215.8 L100.5,215.8 L101.6,215.7 L102.6,215.7 L103.7,215.7 L104.7,215.7 L105.7,215.6 L106.8,215.6 L107.8,215.6 L108.8,215.5 L109.9,215.5 L110.9,215.5 L111.9,215.4 L113.0,215.4 L114.0,215.4 L115.1,215.3 L116.1,215.3 L117.1,215.3 L118.2,215.2 L119.2,215.2 L120.2,215.2 L121.3,215.1 L122.3,215.1 L123.3,215.0 L124.4,215.0 L125.4,215.0 L126.5,214.9 L127.5,214.9 L128.5,214.8 L129.6,214.8 L130.6,214.7 L131.6,214.7 L132.7,214.6 L133.7,214.6 L134.7,214.5 L135.8,214.5 L136.8,214.4 L137.9,214.3 L138.9,214.3 L139.9,214.2 L141.0,214.2 L142.0,214.1 L143.0,214.0 L144.1,214.0 L145.1,213.9 L146.1,213.9 L147.2,213.8 L148.2,213.7 L149.3,213.6 L150.3,213.6 L151.3,213.5 L152.4,213.4 L153.4,213.3 L154.4,213.3 L155.5,213.2 L156.5,213.1 L157.5,213.0 L158.6,212.9 L159.6,212.8 L160.6,212.7 L161.7,212.7 L162.7,212.6 L163.8,212.5 L164.8,212.4 L165.8,212.3 L166.9,212.2 L167.9,212.1 L168.9,212.0 L170.0,211.8 L171.0,211.7 L172.0,211.6 L173.1,211.5 L174.1,211.4 L175.2,211.3 L176.2,211.1 L177.2,211.0 L178.3,210.9 L179.3,210.8 L180.3,210.6 L181.4,210.5 L182.4,210.3 L183.4,210.2 L184.5,210.1 L185.5,209.9 L186.6,209.8 L187.6,209.6 L188.6,209.5 L189.7,209.3 L190.7,209.1 L191.7,209.0 L192.8,208.8 L193.8,208.6 L194.8,208.4 L195.9,208.3 L196.9,208.1 L198.0,207.9 L199.0,207.7 L200.0,207.5 L201.1,207.3 L202.1,207.1 L203.1,206.9 L204.2,206.7 L205.2,206.5 L206.2,206.2 L207.3,206.0 L208.3,205.8 L209.4,205.6 L210.4,205.3 L211.4,205.1 L212.5,204.8 L213.5,204.6 L214.5,204.3 L215.6,204.1 L216.6,203.8 L217.6,203.6 L218.7,203.3 L219.7,203.0 L220.8,202.7 L221.8,202.4 L222.8,202.1 L223.9,201.8 L224.9,201.5 L225.9,201.2 L227.0,200.9 L228.0,200.6 L229.0,200.3 L230.1,199.9 L231.1,199.6 L232.2,199.3 L233.2,198.9 L234.2,198.6 L235.3,198.2 L236.3,197.8 L237.3,197.5 L238.4,197.1 L239.4,196.7 L240.4,196.3 L241.5,195.9 L242.5,195.5 L243.5,195.1 L244.6,194.7 L245.6,194.3 L246.7,193.9 L247.7,193.4 L248.7,193.0 L249.8,192.6 L250.8,192.1 L251.8,191.7 L252.9,191.2 L253.9,190.7 L254.9,190.2 L256.0,189.8 L257.0,189.3 L258.1,188.8 L259.1,188.3 L260.1,187.8 L261.2,187.3 L262.2,186.8 L263.2,186.2 L264.3,185.7 L265.3,185.2 L266.3,184.6 L267.4,184.1 L268.4,183.5 L269.5,183.0 L270.5,182.4 L271.5,181.8 L272.6,181.2 L273.6,180.7 L274.6,180.1 L275.7,179.5 L276.7,178.9 L277.7,178.3 L278.8,177.6 L279.8,177.0 L280.9,176.4 L281.9,175.8 L282.9,175.1 L284.0,174.5 L285.0,173.9 L286.0,173.2 L287.1,172.6 L288.1,171.9 L289.1,171.3 L290.2,170.6 L291.2,169.9 L292.3,169.2 L293.3,168.6 L294.3,167.9 L295.4,167.2 L296.4,166.5 L297.4,165.8 L298.5,165.1 L299.5,164.4 L300.5,163.7 L301.6,163.0 L302.6,162.3 L303.7,161.6 L304.7,160.8 L305.7,160.1 L306.8,159.4 L307.8,158.7 L308.8,157.9 L309.9,157.2 L310.9,156.5 L311.9,155.7 L313.0,155.0 L314.0,154.2 L315.1,153.5 L316.1,152.7 L317.1,152.0 L318.2,151.2 L319.2,150.5 L320.2,149.7 L321.3,148.9 L322.3,148.2 L323.3,147.4 L324.4,146.6 L325.4,145.9 L326.4,145.1 L327.5,144.3 L328.5,143.5 L329.6,142.8 L330.6,142.0 L331.6,141.2 L332.7,140.4 L333.7,139.6 L334.7,138.8 L335.8,138.1 L336.8,137.3 L337.8,136.5 L338.9,135.7 L339.9,134.9 L341.0,134.1 L342.0,133.3 L343.0,132.5 L344.1,131.7 L345.1,130.9 L346.1,130.1 L347.2,129.3 L348.2,128.5 L349.2,127.7 L350.3,126.9 L351.3,126.1 L352.4,125.3 L353.4,124.5 L354.4,123.7 L355.5,122.9 L356.5,122.1 L357.5,121.3 L358.6,120.4 L359.6,119.6 L360.6,118.8 L361.7,118.0 L362.7,117.2 L363.8,116.4 L364.8,115.6 L365.8,114.8 L366.9,113.9 L367.9,113.1 L368.9,112.3 L370.0,111.5 L371.0,110.7 L372.0,109.9 L373.1,109.0 L374.1,108.2 L375.2,107.4 L376.2,106.6 L377.2,105.8 L378.3,104.9 L379.3,104.1 L380.3,103.3 L381.4,102.5 L382.4,101.7 L383.4,100.8 L384.5,100.0 L385.5,99.2 L386.6,98.4 L387.6,97.6 L388.6,96.7 L389.7,95.9 L390.7,95.1 L391.7,94.3 L392.8,93.4 L393.8,92.6 L394.8,91.8 L395.9,91.0 L396.9,90.1 L398.0,89.3 L399.0,88.5 L400.0,87.7 L401.1,86.8 L402.1,86.0 L403.1,85.2 L404.2,84.4 L405.2,83.5 L406.2,82.7 L407.3,81.9 L408.3,81.1 L409.3,80.2 L410.4,79.4 L411.4,78.6 L412.5,77.8 L413.5,76.9 L414.5,76.1 L415.6,75.3 L416.6,74.4 L417.6,73.6 L418.7,72.8 L419.7,72.0 L420.7,71.1 L421.8,70.3 L422.8,69.5 L423.9,68.7 L424.9,67.8 L425.9,67.0 L427.0,66.2 L428.0,65.3 L429.0,64.5 L430.1,63.7 L431.1,62.9 L432.1,62.0 L433.2,61.2 L434.2,60.4 L435.3,59.5 L436.3,58.7 L437.3,57.9 L438.4,57.1 L439.4,56.2 L440.4,55.4 L441.5,54.6 L442.5,53.7 L443.5,52.9 L444.6,52.1 L445.6,51.3 L446.7,50.4 L447.7,49.6 L448.7,48.8 L449.8,48.0 L450.8,47.1 L451.8,46.3 L452.9,45.5 L453.9,44.6 L454.9,43.8 L456.0,43.0 L457.0,42.2 L458.1,41.3 L459.1,40.5 L460.1,39.7 L461.2,38.8 L462.2,38.0 L463.2,37.2 L464.3,36.4 L465.3,35.5 L466.3,34.7 L467.4,33.9 L468.4,33.0 L469.5,32.2 L470.5,31.4 L471.5,30.6 L472.6,29.7 L473.6,28.9 L474.6,28.1 L475.7,27.2 L476.7,26.4 L477.7,25.6 L478.8,24.8 L479.8,23.9 L480.9,23.1 L481.9,22.3 L482.9,21.4 L484.0,20.6 L485.0,19.8 L486.0,19.0 L487.1,18.1 L488.1,17.3 L489.1,16.5 L490.2,15.6 L491.2,14.8 L492.2,14.0 L493.3,13.1 L494.3,12.3 L495.4,11.5 L496.4,10.7 L496.4,57.6 L495.4,58.4 L494.3,59.3 L493.3,60.1 L492.2,60.9 L491.2,61.8 L490.2,62.6 L489.1,63.4 L488.1,64.2 L487.1,65.1 L486.0,65.9 L485.0,66.7 L484.0,67.6 L482.9,68.4 L481.9,69.2 L480.9,70.0 L479.8,70.9 L478.8,71.7 L477.7,72.5 L476.7,73.4 L475.7,74.2 L474.6,75.0 L473.6,75.9 L472.6,76.7 L471.5,77.5 L470.5,78.3 L469.5,79.2 L468.4,80.0 L467.4,80.8 L466.3,81.7 L465.3,82.5 L464.3,83.3 L463.2,84.1 L462.2,85.0 L461.2,85.8 L460.1,86.6 L459.1,87.5 L458.1,88.3 L457.0,89.1 L456.0,90.0 L454.9,90.8 L453.9,91.6 L452.9,92.4 L451.8,93.3 L450.8,94.1 L449.8,94.9 L448.7,95.8 L447.7,96.6 L446.7,97.4 L445.6,98.3 L444.6,99.1 L443.5,99.9 L442.5,100.7 L441.5,101.6 L440.4,102.4 L439.4,103.2 L438.4,104.1 L437.3,104.9 L436.3,105.7 L435.3,106.6 L434.2,107.4 L433.2,108.2 L432.1,109.1 L431.1,109.9 L430.1,110.7 L429.0,111.6 L428.0,112.4 L427.0,113.2 L425.9,114.1 L424.9,114.9 L423.9,115.7 L422.8,116.6 L421.8,117.4 L420.7,118.2 L419.7,119.1 L418.7,119.9 L417.6,120.7 L416.6,121.6 L415.6,122.4 L414.5,123.2 L413.5,124.1 L412.5,124.9 L411.4,125.7 L410.4,126.6 L409.3,127.4 L408.3,128.3 L407.3,129.1 L406.2,129.9 L405.2,130.8 L404.2,131.6 L403.1,132.5 L402.1,133.3 L401.1,134.1 L400.0,135.0 L399.0,135.8 L398.0,136.7 L396.9,137.5 L395.9,138.4 L394.8,139.2 L393.8,140.0 L392.8,140.9 L391.7,141.7 L390.7,142.6 L389.7,143.4 L388.6,144.3 L387.6,145.1 L386.6,146.0 L385.5,146.8 L384.5,147.7 L383.4,148.5 L382.4,149.4 L381.4,150.3 L380.3,151.1 L379.3,152.0 L378.3,152.8 L377.2,153.7 L376.2,154.6 L375.2,155.4 L374.1,156.3 L373.1,157.2 L372.0,158.0 L371.0,158.9 L370.0,159.8 L368.9,160.6 L367.9,161.5 L366.9,162.4 L365.8,163.3 L364.8,164.2 L363.8,165.0 L362.7,165.9 L361.7,166.8 L360.6,167.7 L359.6,168.6 L358.6,169.5 L357.5,170.4 L356.5,171.3 L355.5,172.2 L354.4,173.1 L353.4,174.0 L352.4,175.0 L351.3,175.9 L350.3,176.8 L349.2,177.7 L348.2,178.7 L347.2,179.6 L346.1,180.5 L345.1,181.5 L344.1,182.4 L343.0,183.4 L342.0,184.3 L341.0,185.3 L339.9,186.3 L338.9,187.2 L337.8,188.2 L336.8,189.2 L335.8,190.2 L334.7,191.2 L333.7,192.2 L332.7,193.2 L331.6,194.2 L330.6,195.3 L329.6,196.3 L328.5,197.4 L327.5,198.4 L326.4,199.5 L325.4,200.6 L324.4,201.6 L323.3,202.7 L322.3,203.8 L321.3,205.0 L320.2,206.1 L319.2,207.2 L318.2,208.4 L317.1,209.6 L316.1,210.8 L315.1,212.0 L314.0,213.2 L313.0,214.4 L311.9,215.7 L310.9,217.0 L309.9,218.3 L308.8,219.6 L307.8,221.0 L306.8,222.3 L305.7,223.7 L304.7,225.2 L303.7,226.6 L302.6,228.1 L301.6,229.6 L300.5,231.2 L299.5,232.8 L298.5,234.5 L297.4,236.2 L296.4,237.9 L295.4,239.7 L294.3,241.6 L293.3,243.5 L292.3,245.5 L291.2,247.6 L290.2,249.7 L289.1,252.0 L288.1,254.4 L287.1,256.9 L286.0,259.5 L285.0,262.3 L284.0,265.2 L282.9,268.4 L281.9,271.8 L280.9,275.5 L279.8,279.5 L278.8,283.9 L277.7,288.9 L276.7,294.6 L275.7,301.2 L274.6,309.0 L273.6,318.9 L272.6,332.1 L271.5,352.5 L270.5,373.7 L269.5,373.7 L268.4,373.7 L267.4,373.7 L266.3,373.7 L265.3,373.7 L264.3,373.7 L263.2,373.7 L262.2,373.7 L261.2,373.7 L260.1,373.7 L259.1,373.7 L258.1,373.7 L257.0,373.7 L256.0,373.7 L254.9,373.7 L253.9,373.7 L252.9,373.7 L251.8,373.7 L250.8,373.7 L249.8,373.7 L248.7,373.7 L247.7,373.7 L246.7,373.7 L245.6,373.7 L244.6,373.7 L243.5,373.7 L242.5,373.7 L241.5,373.7 L240.4,373.7 L239.4,373.7 L238.4,373.7 L237.3,373.7 L236.3,373.7 L235.3,373.7 L234.2,373.7 L233.2,373.7 L232.2,373.7 L231.1,373.7 L230.1,373.7 L229.0,373.7 L228.0,373.7 L227.0,373.7 L225.9,373.7 L224.9,373.7 L223.9,373.7 L222.8,373.7 L221.8,373.7 L220.8,373.7 L219.7,373.7 L218.7,373.4 L217.6,357.2 L216.6,346.2 L215.6,337.9 L214.5,331.2 L213.5,325.7 L212.5,321.0 L211.4,316.8 L210.4,313.2 L209.4,310.0 L208.3,307.0 L207.3,304.4 L206.2,301.9 L205.2,299.7 L204.2,297.6 L203.1,295.7 L202.1,293.9 L201.1,292.2 L200.0,290.7 L199.0,289.2 L198.0,287.8 L196.9,286.5 L195.9,285.2 L194.8,284.0 L193.8,282.9 L192.8,281.9 L191.7,280.8 L190.7,279.9 L189.7,278.9 L188.6,278.1 L187.6,277.2 L186.6,276.4 L185.5,275.6 L184.5,274.9 L183.4,274.2 L182.4,273.5 L181.4,272.8 L180.3,272.2 L179.3,271.6 L178.3,271.0 L177.2,270.4 L176.2,269.8 L175.2,269.3 L174.1,268.8 L173.1,268.3 L172.0,267.8 L171.0,267.4 L170.0,266.9 L168.9,266.5 L167.9,266.1 L166.9,265.7 L165.8,265.3 L164.8,264.9 L163.8,264.5 L162.7,264.2 L161.7,263.8 L160.6,263.5 L159.6,263.2 L158.6,262.9 L157.5,262.5 L156.5,262.3 L155.5,262.0 L154.4,261.7 L153.4,261.4 L152.4,261.1 L151.3,260.9 L150.3,260.6 L149.3,260.4 L148.2,260.2 L147.2,259.9 L146.1,259.7 L145.1,259.5 L144.1,259.3 L143.0,259.1 L142.0,258.9 L141.0,258.7 L139.9,258.5 L138.9,258.3 L137.9,258.1 L136.8,258.0 L135.8,257.8 L134.7,257.6 L133.7,257.5 L132.7,257.3 L131.6,257.1 L130.6,257.0 L129.6,256.8 L128.5,256.7 L127.5,256.6 L126.5,256.4 L125.4,256.3 L124.4,256.2 L123.3,256.1 L122.3,255.9 L121.3,255.8 L120.2,255.7 L119.2,255.6 L118.2,255.5 L117.1,255.4 L116.1,255.3 L115.1,255.2 L114.0,255.1 L113.0,255.0 L111.9,254.9 L110.9,254.8 L109.9,254.7 L108.8,254.6 L107.8,254.5 L106.8,254.4 L105.7,254.3 L104.7,254.3 L103.7,254.2 L102.6,254.1 L101.6,254.0 L100.5,254.0 L99.5,253.9 L98.5,253.8 L97.4,253.8 L96.4,253.7 L95.4,253.6 L94.3,253.6 L93.3,253.5 L92.3,253.5 L91.2,253.4 L90.2,253.3 L89.1,253.3 L88.1,253.2 L87.1,253.2 L86.0,253.1 L85.0,253.1 L84.0,253.0 L82.9,253.0 L81.9,252.9 L80.9,252.9 L79.8,252.8 L78.8,252.8 L77.7,252.7 L76.7,252.7 L75.7,252.7 L74.6,252.6 L73.6,252.6 L72.6,252.6 L71.5,252.5 L70.5,252.5 L69.5,252.4 L68.4,252.4 L67.4,252.4 L66.4,252.3 L65.3,252.3 L64.3,252.3 L63.2,252.2 L62.2,252.2Z" fill="rgb(239,125,125)" fill-opacity="0.92"/>
<path d="M62.2,126.2 L63.2,126.2 L64.3,126.2 L65.3,126.2 L66.4,126.2 L67.4,126.2 L68.4,126.2 L69.5,126.2 L70.5,126.2 L71.5,126.2 L72.6,126.2 L73.6,126.2 L74.6,126.2 L75.7,126.2 L76.7,126.2 L77.7,126.2 L78.8,126.2 L79.8,126.2 L80.9,126.2 L81.9,126.2 L82.9,126.2 L84.0,126.2 L85.0,126.2 L86.0,126.2 L87.1,126.2 L88.1,126.2 L89.1,126.2 L90.2,126.2 L91.2,126.2 L92.3,126.2 L93.3,126.2 L94.3,126.2 L95.4,126.2 L96.4,126.2 L97.4,126.2 L98.5,126.2 L99.5,126.2 L100.5,126.2 L101.6,126.2 L102.6,126.2 L103.7,126.2 L104.7,126.2 L105.7,126.2 L106.8,126.2 L107.8,126.2 L108.8,126.2 L109.9,126.2 L110.9,126.2 L111.9,126.2 L113.0,126.2 L114.0,126.2 L115.1,126.2 L116.1,126.2 L117.1,126.2 L118.2,126.2 L119.2,126.2 L120.2,126.2 L121.3,126.2 L122.3,126.2 L123.3,126.2 L124.4,126.2 L125.4,126.2 L126.5,126.2 L127.5,126.2 L128.5,126.2 L129.6,126.2 L130.6,126.2 L131.6,126.2 L132.7,126.2 L133.7,126.2 L134.7,126.2 L135.8,126.2 L136.8,126.2 L137.9,126.2 L138.9,126.2 L139.9,126.2 L141.0,126.2 L142.0,126.2 L143.0,126.2 L144.1,126.2 L145.1,126.2 L146.1,126.2 L147.2,126.2 L148.2,126.2 L149.3,126.2 L150.3,126.2 L151.3,126.2 L152.4,126.2 L153.4,126.2 L154.4,126.2 L155.5,126.2 L156.5,126.2 L157.5,126.2 L158.6,126.2 L159.6,126.2 L160.6,126.2 L161.7,126.2 L162.7,126.2 L163.8,126.2 L164.8,126.2 L165.8,126.2 L166.9,126.2 L167.9,126.2 L168.9,126.2 L170.0,126.2 L171.0,126.2 L172.0,126.2 L173.1,126.2 L174.1,126.2 L175.2,126.2 L176.2,126.2 L177.2,126.2 L178.3,126.2 L179.3,126.2 L180.3,126.2 L181.4,126.2 L182.4,126.2 L183.4,126.2 L184.5,126.2 L185.5,126.2 L186.6,126.2 L187.6,126.2 L188.6,126.2 L189.7,126.2 L190.7,126.2 L191.7,126.2 L192.8,126.2 L193.8,126.2 L194.8,126.2 L195.9,126.2 L196.9,126.2 L198.0,126.2 L199.0,126.2 L200.0,126.2 L201.1,126.2 L202.1,126.2 L203.1,126.2 L204.2,126.2 L205.2,126.2 L206.2,126.2 L207.3,126.2 L208.3,126.2 L209.4,126.2 L210.4,126.2 L211.4,126.2 L212.5,126.2 L213.5,126.2 L214.5,126.2 L215.6,126.2 L216.6,126.2 L217.6,126.2 L218.7,126.1 L219.7,126.1 L220.8,126.1 L221.8,126.1 L222.8,126.1 L223.9,126.1 L224.9,126.1 L225.9,126.1 L227.0,126.1 L228.0,126.1 L229.0,126.1 L230.1,126.1 L231.1,126.1 L232.2,126.1 L233.2,126.1 L234.2,126.1 L235.3,126.1 L236.3,126.1 L237.3,126.1 L238.4,126.0 L239.4,126.0 L240.4,126.0 L241.5,126.0 L242.5,126.0 L243.5,126.0 L244.6,126.0 L245.6,126.0 L246.7,126.0 L247.7,126.0 L248.7,126.0 L249.8,125.9 L250.8,125.9 L251.8,125.9 L252.9,125.9 L253.9,125.9 L254.9,125.9 L256.0,125.9 L257.0,125.9 L258.1,125.8 L259.1,125.8 L260.1,125.8 L261.2,125.8 L262.2,125.8 L263.2,125.8 L264.3,125.7 L265.3,125.7 L266.3,125.7 L267.4,125.7 L268.4,125.6 L269.5,125.6 L270.5,125.6 L271.5,125.6 L272.6,125.5 L273.6,125.5 L274.6,125.5 L275.7,125.5 L276.7,125.4 L277.7,125.4 L278.8,125.4 L279.8,125.3 L280.9,125.3 L281.9,125.2 L282.9,125.2 L284.0,125.2 L285.0,125.1 L286.0,125.1 L287.1,125.0 L288.1,125.0 L289.1,124.9 L290.2,124.9 L291.2,124.8 L292.3,124.7 L293.3,124.7 L294.3,124.6 L295.4,124.6 L296.4,124.5 L297.4,124.4 L298.5,124.3 L299.5,124.3 L300.5,124.2 L301.6,124.1 L302.6,124.0 L303.7,123.9 L304.7,123.8 L305.7,123.7 L306.8,123.6 L307.8,123.5 L308.8,123.4 L309.9,123.3 L310.9,123.2 L311.9,123.1 L313.0,122.9 L314.0,122.8 L315.1,122.7 L316.1,122.5 L317.1,122.4 L318.2,122.2 L319.2,122.0 L320.2,121.9 L321.3,121.7 L322.3,121.5 L323.3,121.4 L324.4,121.2 L325.4,121.0 L326.4,120.8 L327.5,120.6 L328.5,120.3 L329.6,120.1 L330.6,119.9 L331.6,119.6 L332.7,119.4 L333.7,119.1 L334.7,118.9 L335.8,118.6 L336.8,118.3 L337.8,118.0 L338.9,117.8 L339.9,117.5 L341.0,117.1 L342.0,116.8 L343.0,116.5 L344.1,116.2 L345.1,115.8 L346.1,115.4 L347.2,115.1 L348.2,114.7 L349.2,114.3 L350.3,113.9 L351.3,113.5 L352.4,113.1 L353.4,112.7 L354.4,112.3 L355.5,111.8 L356.5,111.4 L357.5,110.9 L358.6,110.5 L359.6,110.0 L360.6,109.5 L361.7,109.0 L362.7,108.5 L363.8,108.0 L364.8,107.5 L365.8,106.9 L366.9,106.4 L367.9,105.9 L368.9,105.3 L370.0,104.7 L371.0,104.2 L372.0,103.6 L373.1,103.0 L374.1,102.4 L375.2,101.8 L376.2,101.2 L377.2,100.6 L378.3,100.0 L379.3,99.3 L380.3,98.7 L381.4,98.1 L382.4,97.4 L383.4,96.8 L384.5,96.1 L385.5,95.4 L386.6,94.8 L387.6,94.1 L388.6,93.4 L389.7,92.7 L390.7,92.0 L391.7,91.3 L392.8,90.6 L393.8,89.9 L394.8,89.2 L395.9,88.5 L396.9,87.7 L398.0,87.0 L399.0,86.3 L400.0,85.6 L401.1,84.8 L402.1,84.1 L403.1,83.3 L404.2,82.6 L405.2,81.8 L406.2,81.1 L407.3,80.3 L408.3,79.6 L409.3,78.8 L410.4,78.0 L411.4,77.3 L412.5,76.5 L413.5,75.7 L414.5,74.9 L415.6,74.2 L416.6,73.4 L417.6,72.6 L418.7,71.8 L419.7,71.0 L420.7,70.2 L421.8,69.5 L422.8,68.7 L423.9,67.9 L424.9,67.1 L425.9,66.3 L427.0,65.5 L428.0,64.7 L429.0,63.9 L430.1,63.1 L431.1,62.3 L432.1,61.5 L433.2,60.7 L434.2,59.9 L435.3,59.1 L436.3,58.3 L437.3,57.5 L438.4,56.6 L439.4,55.8 L440.4,55.0 L441.5,54.2 L442.5,53.4 L443.5,52.6 L444.6,51.8 L445.6,51.0 L446.7,50.1 L447.7,49.3 L448.7,48.5 L449.8,47.7 L450.8,46.9 L451.8,46.1 L452.9,45.2 L453.9,44.4 L454.9,43.6 L456.0,42.8 L457.0,42.0 L458.1,41.1 L459.1,40.3 L460.1,39.5 L461.2,38.7 L462.2,37.9 L463.2,37.0 L464.3,36.2 L465.3,35.4 L466.3,34.6 L467.4,33.7 L468.4,32.9 L469.5,32.1 L470.5,31.3 L471.5,30.5 L472.6,29.6 L473.6,28.8 L474.6,28.0 L475.7,27.2 L476.7,26.3 L477.7,25.5 L478.8,24.7 L479.8,23.9 L480.9,23.0 L481.9,22.2 L482.9,21.4 L484.0,20.6 L485.0,19.7 L486.0,18.9 L487.1,18.1 L488.1,17.2 L489.1,16.4 L490.2,15.6 L491.2,14.8 L492.2,13.9 L493.3,13.1 L494.3,12.3 L495.4,11.5 L496.4,10.6 L496.4,57.6 L495.4,58.4 L494.3,59.2 L493.3,60.0 L492.2,60.9 L491.2,61.7 L490.2,62.5 L489.1,63.4 L488.1,64.2 L487.1,65.0 L486.0,65.8 L485.0,66.7 L484.0,67.5 L482.9,68.3 L481.9,69.1 L480.9,70.0 L479.8,70.8 L478.8,71.6 L477.7,72.4 L476.7,73.3 L475.7,74.1 L474.6,74.9 L473.6,75.7 L472.6,76.6 L471.5,77.4 L470.5,78.2 L469.5,79.0 L468.4,79.9 L467.4,80.7 L466.3,81.5 L465.3,82.3 L464.3,83.1 L463.2,84.0 L462.2,84.8 L461.2,85.6 L460.1,86.4 L459.1,87.3 L458.1,88.1 L457.0,88.9 L456.0,89.7 L454.9,90.5 L453.9,91.3 L452.9,92.2 L451.8,93.0 L450.8,93.8 L449.8,94.6 L448.7,95.4 L447.7,96.2 L446.7,97.1 L445.6,97.9 L444.6,98.7 L443.5,99.5 L442.5,100.3 L441.5,101.1 L440.4,101.9 L439.4,102.7 L438.4,103.6 L437.3,104.4 L436.3,105.2 L435.3,106.0 L434.2,106.8 L433.2,107.6 L432.1,108.4 L431.1,109.2 L430.1,110.0 L429.0,110.8 L428.0,111.6 L427.0,112.4 L425.9,113.2 L424.9,114.0 L423.9,114.8 L422.8,115.5 L421.8,116.3 L420.7,117.1 L419.7,117.9 L418.7,118.7 L417.6,119.5 L416.6,120.3 L415.6,121.0 L414.5,121.8 L413.5,122.6 L412.5,123.3 L411.4,124.1 L410.4,124.9 L409.3,125.6 L408.3,126.4 L407.3,127.2 L406.2,127.9 L405.2,128.7 L404.2,129.4 L403.1,130.1 L402.1,130.9 L401.1,131.6 L400.0,132.3 L399.0,133.1 L398.0,133.8 L396.9,134.5 L395.9,135.2 L394.8,135.9 L393.8,136.7 L392.8,137.4 L391.7,138.0 L390.7,138.7 L389.7,139.4 L388.6,140.1 L387.6,140.8 L386.6,141.4 L385.5,142.1 L384.5,142.8 L383.4,143.4 L382.4,144.1 L381.4,144.7 L380.3,145.3 L379.3,146.0 L378.3,146.6 L377.2,147.2 L376.2,147.8 L375.2,148.4 L374.1,149.0 L373.1,149.5 L372.0,150.1 L371.0,150.7 L370.0,151.2 L368.9,151.8 L367.9,152.3 L366.9,152.8 L365.8,153.4 L364.8,153.9 L363.8,154.4 L362.7,154.9 L361.7,155.3 L360.6,155.8 L359.6,156.3 L358.6,156.7 L357.5,157.2 L356.5,157.6 L355.5,158.0 L354.4,158.5 L353.4,158.9 L352.4,159.3 L351.3,159.6 L350.3,160.0 L349.2,160.4 L348.2,160.7 L347.2,161.1 L346.1,161.4 L345.1,161.8 L344.1,162.1 L343.0,162.4 L342.0,162.7 L341.0,163.0 L339.9,163.3 L338.9,163.6 L337.8,163.8 L336.8,164.1 L335.8,164.3 L334.7,164.6 L333.7,164.8 L332.7,165.0 L331.6,165.3 L330.6,165.5 L329.6,165.7 L328.5,165.9 L327.5,166.1 L326.4,166.2 L325.4,166.4 L324.4,166.6 L323.3,166.7 L322.3,166.9 L321.3,167.0 L320.2,167.2 L319.2,167.3 L318.2,167.5 L317.1,167.6 L316.1,167.7 L315.1,167.8 L314.0,167.9 L313.0,168.1 L311.9,168.2 L310.9,168.3 L309.9,168.3 L308.8,168.4 L307.8,168.5 L306.8,168.6 L305.7,168.7 L304.7,168.8 L303.7,168.8 L302.6,168.9 L301.6,169.0 L300.5,169.0 L299.5,169.1 L298.5,169.1 L297.4,169.2 L296.4,169.2 L295.4,169.3 L294.3,169.3 L293.3,169.4 L292.3,169.4 L291.2,169.5 L290.2,169.5 L289.1,169.5 L288.1,169.6 L287.1,169.6 L286.0,169.6 L285.0,169.7 L284.0,169.7 L282.9,169.7 L281.9,169.7 L280.9,169.8 L279.8,169.8 L278.8,169.8 L277.7,169.8 L276.7,169.8 L275.7,169.9 L274.6,169.9 L273.6,169.9 L272.6,169.9 L271.5,169.9 L270.5,169.9 L269.5,169.9 L268.4,169.9 L267.4,170.0 L266.3,170.0 L265.3,170.0 L264.3,170.0 L263.2,170.0 L262.2,170.0 L261.2,170.0 L260.1,170.0 L259.1,170.0 L258.1,170.0 L257.0,170.0 L256.0,170.0 L254.9,170.0 L253.9,170.0 L252.9,170.0 L251.8,170.0 L250.8,170.0 L249.8,170.1 L248.7,170.1 L247.7,170.1 L246.7,170.1 L245.6,170.1 L244.6,170.1 L243.5,170.1 L242.5,170.1 L241.5,170.1 L240.4,170.1 L239.4,170.1 L238.4,170.1 L237.3,170.1 L236.3,170.1 L235.3,170.1 L234.2,170.1 L233.2,170.1 L232.2,170.1 L231.1,170.1 L230.1,170.1 L229.0,170.1 L228.0,170.1 L227.0,170.1 L225.9,170.1 L224.9,170.1 L223.9,170.1 L222.8,170.1 L221.8,170.1 L220.8,170.1 L219.7,170.1 L218.7,170.1 L217.6,170.1 L216.6,170.0 L215.6,170.0 L214.5,170.0 L213.5,170.0 L212.5,170.0 L211.4,170.0 L210.4,170.0 L209.4,170.0 L208.3,170.0 L207.3,170.0 L206.2,170.0 L205.2,170.0 L204.2,170.0 L203.1,170.0 L202.1,170.0 L201.1,170.0 L200.0,170.0 L199.0,170.0 L198.0,170.0 L196.9,170.0 L195.9,170.0 L194.8,170.0 L193.8,170.0 L192.8,170.0 L191.7,170.0 L190.7,170.0 L189.7,170.0 L188.6,170.0 L187.6,170.0 L186.6,170.0 L185.5,170.0 L184.5,170.0 L183.4,170.0 L182.4,170.0 L181.4,170.0 L180.3,170.0 L179.3,170.0 L178.3,170.0 L177.2,170.0 L176.2,170.0 L175.2,170.0 L174.1,170.0 L173.1,170.0 L172.0,170.0 L171.0,170.0 L170.0,170.0 L168.9,170.0 L167.9,170.0 L166.9,170.0 L165.8,170.0 L164.8,170.0 L163.8,170.0 L162.7,170.0 L161.7,170.0 L160.6,170.0 L159.6,170.0 L158.6,170.0 L157.5,170.0 L156.5,170.0 L155.5,170.0 L154.4,170.0 L153.4,170.0 L152.4,170.0 L151.3,170.0 L150.3,170.0 L149.3,170.0 L148.2,170.0 L147.2,170.0 L146.1,170.0 L145.1,170.0 L144.1,170.0 L143.0,170.0 L142.0,170.0 L141.0,170.0 L139.9,170.0 L138.9,170.0 L137.9,170.0 L136.8,170.0 L135.8,170.0 L134.7,170.0 L133.7,170.0 L132.7,170.0 L131.6,170.0 L130.6,170.0 L129.6,170.0 L128.5,170.0 L127.5,170.0 L126.5,170.0 L125.4,170.0 L124.4,170.0 L123.3,170.0 L122.3,170.0 L121.3,170.0 L120.2,170.0 L119.2,170.0 L118.2,170.0 L117.1,170.0 L116.1,170.0 L115.1,170.0 L114.0,170.0 L113.0,170.0 L111.9,170.0 L110.9,170.0 L109.9,170.0 L108.8,170.0 L107.8,170.0 L106.8,170.0 L105.7,170.0 L104.7,170.0 L103.7,170.0 L102.6,170.0 L101.6,170.0 L100.5,170.0 L99.5,170.0 L98.5,170.0 L97.4,170.0 L96.4,170.0 L95.4,170.0 L94.3,170.0 L93.3,170.0 L92.3,170.0 L91.2,170.0 L90.2,170.0 L89.1,170.0 L88.1,170.0 L87.1,170.0 L86.0,170.0 L85.0,170.0 L84.0,170.0 L82.9,170.0 L81.9,170.0 L80.9,170.0 L79.8,170.0 L78.8,170.0 L77.7,169.9 L76.7,169.9 L75.7,169.9 L74.6,169.9 L73.6,169.9 L72.6,169.9 L71.5,169.9 L70.5,169.9 L69.5,169.9 L68.4,169.9 L67.4,169.9 L66.4,169.9 L65.3,169.9 L64.3,169.9 L63.2,169.9 L62.2,169.9Z" fill="rgb(3,170,2)" fill-opacity="0.91"/>
<rect x="373.3" y="14.9" width="117.80000000000001" height="338.8" fill="rgb(203,203,203)" fill-opacity="0.505"/>
</g>
<line x1="373.3" y1="14.9" x2="373.3" y2="353.7" stroke="#000" stroke-width="1.7"/>
<path d="M99.38,353.70 v-6 M99.38,14.90 v6 M67.50,328.20 h6 M491.10,328.20 h-6 M118.03,353.70 v-6 M118.03,14.90 v6 M67.50,313.29 h6 M491.10,313.29 h-6 M131.26,353.70 v-6 M131.26,14.90 v6 M67.50,302.71 h6 M491.10,302.71 h-6 M141.52,353.70 v-6 M141.52,14.90 v6 M67.50,294.50 h6 M491.10,294.50 h-6 M149.91,353.70 v-6 M149.91,14.90 v6 M67.50,287.79 h6 M491.10,287.79 h-6 M157.00,353.70 v-6 M157.00,14.90 v6 M67.50,282.12 h6 M491.10,282.12 h-6 M163.14,353.70 v-6 M163.14,14.90 v6 M67.50,277.21 h6 M491.10,277.21 h-6 M168.55,353.70 v-6 M168.55,14.90 v6 M67.50,272.88 h6 M491.10,272.88 h-6 M173.40,353.70 v-12 M173.40,14.90 v12 M67.50,269.00 h12 M491.10,269.00 h-12 M205.28,353.70 v-6 M205.28,14.90 v6 M67.50,243.50 h6 M491.10,243.50 h-6 M223.93,353.70 v-6 M223.93,14.90 v6 M67.50,228.59 h6 M491.10,228.59 h-6 M237.16,353.70 v-6 M237.16,14.90 v6 M67.50,218.01 h6 M491.10,218.01 h-6 M247.42,353.70 v-6 M247.42,14.90 v6 M67.50,209.80 h6 M491.10,209.80 h-6 M255.81,353.70 v-6 M255.81,14.90 v6 M67.50,203.09 h6 M491.10,203.09 h-6 M262.90,353.70 v-6 M262.90,14.90 v6 M67.50,197.42 h6 M491.10,197.42 h-6 M269.04,353.70 v-6 M269.04,14.90 v6 M67.50,192.51 h6 M491.10,192.51 h-6 M274.45,353.70 v-6 M274.45,14.90 v6 M67.50,188.18 h6 M491.10,188.18 h-6 M279.30,353.70 v-12 M279.30,14.90 v12 M67.50,184.30 h12 M491.10,184.30 h-12 M311.18,353.70 v-6 M311.18,14.90 v6 M67.50,158.80 h6 M491.10,158.80 h-6 M329.83,353.70 v-6 M329.83,14.90 v6 M67.50,143.89 h6 M491.10,143.89 h-6 M343.06,353.70 v-6 M343.06,14.90 v6 M67.50,133.31 h6 M491.10,133.31 h-6 M353.32,353.70 v-6 M353.32,14.90 v6 M67.50,125.10 h6 M491.10,125.10 h-6 M361.71,353.70 v-6 M361.71,14.90 v6 M67.50,118.39 h6 M491.10,118.39 h-6 M368.80,353.70 v-6 M368.80,14.90 v6 M67.50,112.72 h6 M491.10,112.72 h-6 M374.94,353.70 v-6 M374.94,14.90 v6 M67.50,107.81 h6 M491.10,107.81 h-6 M380.35,353.70 v-6 M380.35,14.90 v6 M67.50,103.48 h6 M491.10,103.48 h-6 M385.20,353.70 v-12 M385.20,14.90 v12 M67.50,99.60 h12 M491.10,99.60 h-12 M417.08,353.70 v-6 M417.08,14.90 v6 M67.50,74.10 h6 M491.10,74.10 h-6 M435.73,353.70 v-6 M435.73,14.90 v6 M67.50,59.19 h6 M491.10,59.19 h-6 M448.96,353.70 v-6 M448.96,14.90 v6 M67.50,48.61 h6 M491.10,48.61 h-6 M459.22,353.70 v-6 M459.22,14.90 v6 M67.50,40.40 h6 M491.10,40.40 h-6 M467.61,353.70 v-6 M467.61,14.90 v6 M67.50,33.69 h6 M491.10,33.69 h-6 M474.70,353.70 v-6 M474.70,14.90 v6 M67.50,28.02 h6 M491.10,28.02 h-6 M480.84,353.70 v-6 M480.84,14.90 v6 M67.50,23.11 h6 M491.10,23.11 h-6 M486.25,353.70 v-6 M486.25,14.90 v6 M67.50,18.78 h6 M491.10,18.78 h-6" stroke="#000" stroke-width="1.3" fill="none"/>
<rect x="67.5" y="14.9" width="423.6" height="338.8" fill="none" stroke="#000" stroke-width="1.7"/>
<g class="sans" font-size="12">
<text x="82.3" y="90">GERDA Phase II</text>
<text x="82.3" y="108.5">CUORE</text>
<text x="82.7" y="132.6" letter-spacing="0.07">KamLAND−Zen(<tspan font-size="9" dy="-5.2">136</tspan><tspan dy="5.2">Xe)</tspan></text>
<text x="82.3" y="159">SNO+Phase II</text>
<text x="82.5" y="183" textLength="78.6" lengthAdjust="spacingAndGlyphs">LEGEND 1000</text>
<text x="82.3" y="202.5">nEXO 10y</text>
</g>
<g>
<text x="69.5" y="376.2" text-anchor="end" font-size="19">10</text><rect x="70.8" y="365.30" width="5.3" height="0.95" fill="#000"/><text x="76.6" y="368.6" font-size="14.4">4</text>
<text x="175.4" y="376.2" text-anchor="end" font-size="19">10</text><rect x="176.7" y="365.30" width="5.3" height="0.95" fill="#000"/><text x="182.5" y="368.6" font-size="14.4">3</text>
<text x="281.3" y="376.2" text-anchor="end" font-size="19">10</text><rect x="282.6" y="365.30" width="5.3" height="0.95" fill="#000"/><text x="288.4" y="368.6" font-size="14.4">2</text>
<text x="387.2" y="376.2" text-anchor="end" font-size="19">10</text><rect x="388.5" y="365.30" width="5.3" height="0.95" fill="#000"/><text x="394.3" y="368.6" font-size="14.4">1</text>
<text x="49.7" y="106.3" text-anchor="end" font-size="19">10</text><rect x="51.0" y="94.70" width="5.3" height="0.95" fill="#000"/><text x="56.8" y="98.0" font-size="14.4">1</text>
<text x="49.7" y="191.0" text-anchor="end" font-size="19">10</text><rect x="51.0" y="179.40" width="5.3" height="0.95" fill="#000"/><text x="56.8" y="182.7" font-size="14.4">2</text>
<text x="49.7" y="275.7" text-anchor="end" font-size="19">10</text><rect x="51.0" y="264.10" width="5.3" height="0.95" fill="#000"/><text x="56.8" y="267.4" font-size="14.4">3</text>
<text x="49.7" y="360.4" text-anchor="end" font-size="19">10</text><rect x="51.0" y="348.80" width="5.3" height="0.95" fill="#000"/><text x="56.8" y="352.1" font-size="14.4">4</text>
<text x="64.2" y="21.2" text-anchor="end" font-size="19">1</text>
<text x="495.7" y="375.6" text-anchor="end" font-size="19">1</text>
</g>
<g font-size="17.5" font-weight="bold">
<text transform="translate(432.6,301.2) rotate(-90)" textLength="90.3" lengthAdjust="spacingAndGlyphs">Disfavored</text>
<text transform="translate(432.6,207.5) rotate(-90)" textLength="21.0" lengthAdjust="spacingAndGlyphs">by</text>
<text transform="translate(432.6,183.9) rotate(-90)" textLength="93.8" lengthAdjust="spacingAndGlyphs">Cosmology</text>
</g>
<g transform="translate(17.5,224) rotate(-90)" font-size="17.5">
<text x="1.75" y="0">|</text>
<text x="6.9" y="0" font-style="italic" textLength="12.5" lengthAdjust="spacingAndGlyphs">m</text>
<text x="20.2" y="3.6" font-size="13.3" textLength="12.3" lengthAdjust="spacingAndGlyphs">ee</text>
<text x="35.7" y="0">|</text>
<text x="45.0" y="0" font-size="18.2" textLength="32.7" lengthAdjust="spacingAndGlyphs">[eV]</text>
</g>
<text x="231.7" y="406.6" font-size="17.8" font-style="italic" textLength="12.6" lengthAdjust="spacingAndGlyphs">m</text>
<text x="245.2" y="409.5" font-size="12.8" textLength="44" lengthAdjust="spacingAndGlyphs">lightest</text>
<text x="295.6" y="406.6" font-size="18.2" textLength="32.0" lengthAdjust="spacingAndGlyphs">[eV]</text>
</svg>
</body></html>
